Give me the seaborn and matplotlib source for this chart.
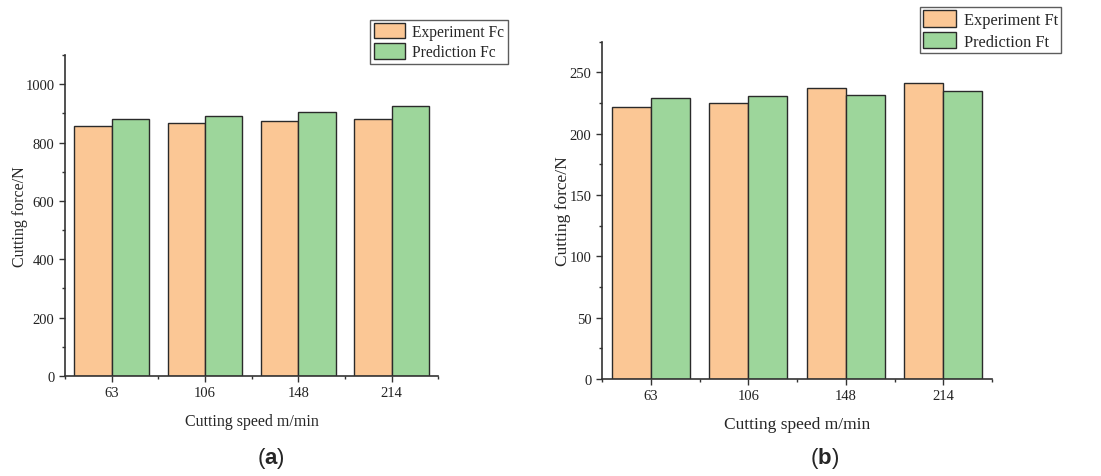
import numpy as np
import pandas as pd
import seaborn as sns
import matplotlib.pyplot as plt
from matplotlib.ticker import MultipleLocator, FixedLocator

# cutting speeds (m/min)
speeds = ["63", "106", "148", "214"]

# (a) main cutting force Fc
exp_fc = [856, 868, 875, 882]
pred_fc = [879, 892, 905, 925]

# (b) thrust force Ft
exp_ft = [222, 225, 237, 241]
pred_ft = [229, 230.5, 231.5, 234.5]

sns.set_theme(style="ticks")
plt.rcParams['font.family'] = ['Liberation Serif', 'DejaVu Serif']
plt.rcParams['mathtext.fontset'] = 'custom'
plt.rcParams['mathtext.rm'] = 'Liberation Sans'
plt.rcParams['mathtext.bf'] = 'Liberation Sans:bold'

ORANGE = "#FBC795"
GREEN = "#9DD69B"


def long_form(exp, pred, tag):
    return pd.DataFrame({
        "speed": speeds * 2,
        "force": list(exp) + list(pred),
        "series": [f"Experiment {tag}"] * len(speeds) + [f"Prediction {tag}"] * len(speeds),
    })


def draw(ax, df, ymax, major, legend_anchor, legend_size):
    sns.barplot(
        data=df, x="speed", y="force", hue="series", ax=ax,
        order=speeds, palette=[ORANGE, GREEN], width=0.8, gap=0,
        edgecolor="#2a2a2a", linewidth=1.0, saturation=1,
    )
    ax.set_xlim(-0.5, 3.5)
    ax.set_ylim(0, ymax)
    ax.yaxis.set_major_locator(MultipleLocator(major))
    ax.yaxis.set_minor_locator(MultipleLocator(major / 2))
    ax.xaxis.set_minor_locator(FixedLocator([-0.5, 0.5, 1.5, 2.5, 3.5]))
    ax.tick_params(axis="both", which="major", direction="out", length=4,
                   width=1, labelsize=10.5, color="#333333", labelcolor="#222222")
    ax.tick_params(axis="both", which="minor", direction="out", length=2.5,
                   width=1, color="#333333")
    for s in ["left", "bottom"]:
        ax.spines[s].set_color("#333333")
        ax.spines[s].set_linewidth(1.2)
    sns.despine(ax=ax)
    ax.set_ylabel("Cutting force/N", fontsize=12.5, labelpad=-1.5)
    ax.set_xlabel("Cutting speed m/min", fontsize=12.5, labelpad=10)
    h, l = ax.get_legend_handles_labels()
    ax.legend(h, l, loc="upper right", bbox_to_anchor=legend_anchor,
              bbox_transform=ax.figure.transFigure,
              frameon=True, fancybox=False, edgecolor="#333333",
              fontsize=legend_size, handlelength=2.0, handleheight=1.15,
              borderpad=0.2, labelspacing=0.25, handletextpad=0.5,
              borderaxespad=0)


fig = plt.figure(figsize=(11.01, 4.77), dpi=100)
ax1 = fig.add_axes([0.059, 0.2096, 0.339, 0.673])
ax2 = fig.add_axes([0.5468, 0.2034, 0.3542, 0.7071])

draw(ax1, long_form(exp_fc, pred_fc, "Fc"), 1100, 200, (0.461, 0.957), 11.2)
draw(ax2, long_form(exp_ft, pred_ft, "Ft"), 275, 50, (0.964, 0.983), 11.8)
ax1.xaxis.label.set_size(11.5)
ax1.yaxis.label.set_size(11.5)
ax2.yaxis.labelpad = -1

fig.text(0.246, 0.028, r"($\mathbf{a}$)", fontsize=16, ha="center",
         family="Liberation Sans")
fig.text(0.749, 0.028, r"($\mathbf{b}$)", fontsize=16, ha="center",
         family="Liberation Sans")

fig.savefig("out.png", dpi=100)
